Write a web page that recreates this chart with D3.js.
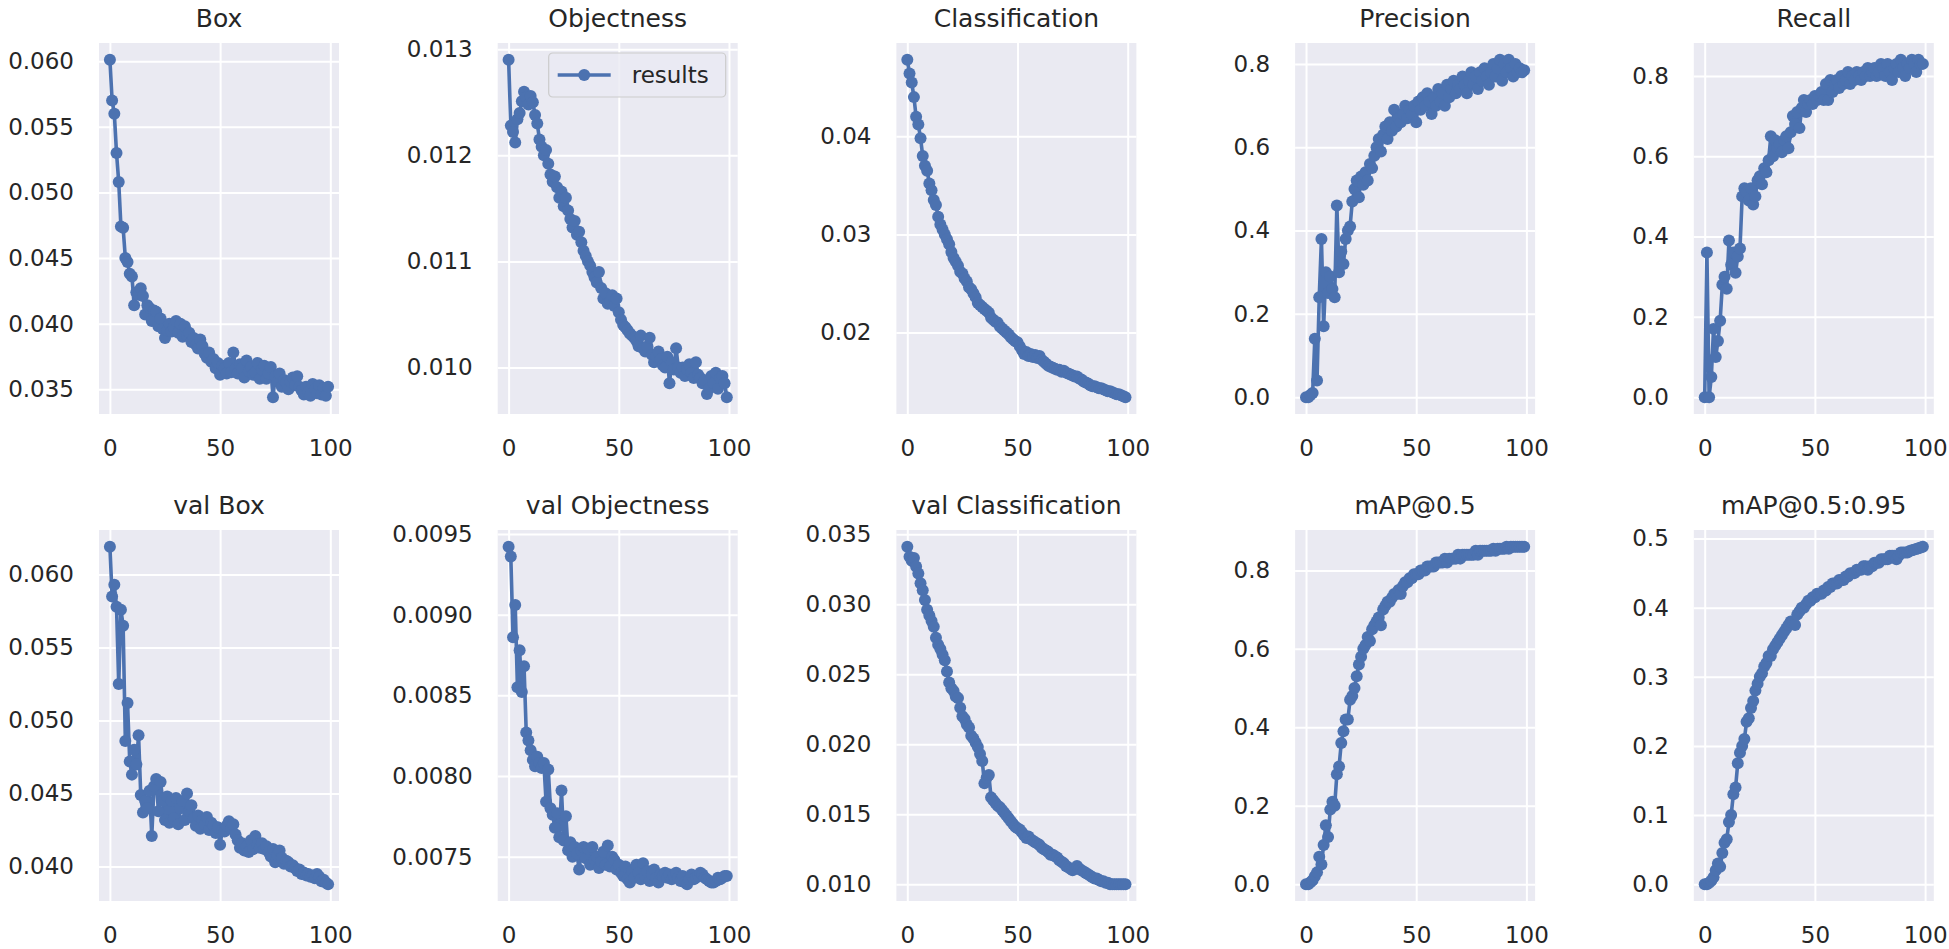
<!DOCTYPE html>
<html>
<head>
<meta charset="utf-8">
<script src="https://cdn.jsdelivr.net/npm/d3@7"></script>
<style>
    body { margin: 0; background: #ffffff; }
    text { font-family: "DejaVu Sans", sans-serif; fill: #262626; }
</style>
</head>
<body>
<div id="chart"></div>
<script>
// Training curves, one value per epoch (0..99)
const boxLoss = [.0601,.0570,.0560,.0530,.0508,.0474,.0473,.0450,.0447,.0438,.0436,.0414,.0424,.0422,.0427,.0421,.0407,.0414,.0412,.0402,
    .0410,.0409,.0398,.0404,.0396,.0389,.0395,.0400,.0394,.0397,.0402,.0393,.0400,.0390,.0398,.0391,.0393,.0386,.0389,.0384,
    .0381,.0388,.0383,.0377,.0374,.0378,.0371,.0373,.0366,.0370,.0361,.0368,.0366,.0362,.0370,.0363,.0378,.0366,.0362,.0369,
    .0366,.0359,.0372,.0364,.0367,.0361,.0363,.0370,.0358,.0365,.0368,.0358,.0362,.0367,.0344,.0360,.0356,.0362,.0352,.0357,
    .0355,.0350,.0356,.0359,.0353,.0360,.0352,.0349,.0346,.0352,.0348,.0345,.0354,.0350,.0347,.0353,.0346,.0351,.0345,.0352];
const objLoss = [.01290,.01228,.01222,.01212,.01234,.01240,.01251,.01260,.01255,.01248,.01256,.01250,.01238,.01230,.01215,.01208,.01200,.01205,.01192,.01182,
    .01175,.01180,.01170,.01160,.01166,.01152,.01160,.01148,.01140,.01132,.01138,.01125,.01128,.01118,.01110,.01105,.01100,.01096,.01090,.01085,
    .01080,.01090,.01075,.01065,.01070,.01060,.01062,.01068,.01058,.01065,.01052,.01045,.01040,.01038,.01035,.01032,.01030,.01028,.01025,.01020,
    .01030,.01018,.01015,.01020,.01028,.01012,.01005,.01010,.01015,.01008,.01002,.01000,.01010,.00985,.01005,.00998,.01018,.01000,.00995,.01000,
    .00992,.00998,.01003,.00995,.00990,.01005,.00993,.00990,.00985,.00988,.00975,.00980,.00992,.00985,.00995,.00980,.00990,.00992,.00985,.00972];
const clsLoss = [.0478,.0464,.0455,.0440,.0420,.0412,.0398,.0380,.0370,.0365,.0352,.0345,.0335,.0330,.0318,.0310,.0305,.0300,.0295,.0290,
    .0282,.0276,.0272,.0268,.0262,.0260,.0255,.0252,.0246,.0244,.0240,.0236,.0230,.0228,.0226,.0224,.0222,.0220,.0215,.0213,
    .0211,.0210,.0206,.0204,.0202,.0200,.0198,.0195,.0193,.0191,.0190,.0186,.0182,.0178,.0180,.0176,.0178,.0175,.0177,.0174,
    .0176,.0172,.0170,.0168,.0166,.0165,.0164,.0163,.0162,.0162,.0160,.0161,.0159,.0158,.0157,.0156,.0155,.0155,.0153,.0152,
    .0150,.0149,.0148,.0146,.0145,.0145,.0144,.0143,.0143,.0142,.0141,.0140,.0140,.0139,.0138,.0137,.0137,.0136,.0135,.0134];
const precision = [0.00,0.00,0.005,0.01,0.14,0.04,0.24,0.38,0.17,0.30,0.25,0.29,0.26,0.24,0.46,0.30,0.35,0.32,0.38,0.40,
    0.41,0.47,0.50,0.52,0.48,0.53,0.51,0.54,0.52,0.56,0.55,0.58,0.60,0.62,0.59,0.63,0.65,0.62,0.66,0.64,
    0.69,0.65,0.67,0.66,0.68,0.70,0.67,0.69,0.68,0.70,0.66,0.71,0.69,0.72,0.70,0.73,0.71,0.68,0.72,0.70,
    0.74,0.71,0.73,0.70,0.75,0.72,0.74,0.76,0.73,0.75,0.74,0.77,0.75,0.73,0.76,0.78,0.75,0.77,0.74,0.78,
    0.76,0.79,0.77,0.75,0.78,0.80,0.77,0.79,0.81,0.76,0.80,0.78,0.81,0.79,0.77,0.80,0.78,0.79,0.78,0.785];
const recall = [0.00,0.36,0.00,0.05,0.17,0.10,0.14,0.19,0.28,0.30,0.27,0.39,0.33,0.36,0.31,0.35,0.37,0.50,0.52,0.51,
    0.49,0.52,0.48,0.50,0.54,0.55,0.53,0.57,0.56,0.59,0.65,0.60,0.64,0.62,0.63,0.61,0.64,0.65,0.62,0.66,
    0.70,0.68,0.71,0.67,0.72,0.74,0.71,0.73,0.74,0.73,0.75,0.74,0.75,0.76,0.74,0.78,0.74,0.79,0.76,0.78,
    0.79,0.77,0.80,0.78,0.79,0.81,0.78,0.80,0.79,0.81,0.80,0.79,0.81,0.80,0.82,0.80,0.81,0.82,0.80,0.81,
    0.83,0.82,0.80,0.83,0.81,0.79,0.82,0.83,0.81,0.84,0.82,0.80,0.83,0.82,0.84,0.83,0.81,0.84,0.83,0.83];
const valBox = [.0619,.0585,.0593,.0578,.0525,.0576,.0565,.0486,.0512,.0472,.0463,.0480,.0470,.0490,.0449,.0437,.0445,.0440,.0452,.0421,
    .0455,.0460,.0438,.0458,.0445,.0432,.0448,.0430,.0445,.0433,.0447,.0429,.0440,.0445,.0432,.0450,.0438,.0442,.0433,.0428,
    .0435,.0426,.0432,.0429,.0434,.0425,.0430,.0428,.0423,.0427,.0415,.0425,.0424,.0428,.0431,.0426,.0429,.0422,.0418,.0413,
    .0416,.0411,.0414,.0410,.0418,.0412,.0421,.0415,.0413,.0416,.0412,.0414,.0410,.0407,.0412,.0403,.0408,.0411,.0406,.0402,
    .0404,.0403,.0400,.0401,.0399,.0397,.0398,.0395,.0396,.0394,.0395,.0393,.0394,.0392,.0395,.0393,.0390,.0391,.0389,.0388];
const valObj = [.00942,.00936,.00886,.00906,.00855,.00878,.00852,.00868,.00827,.00822,.00816,.00810,.00806,.00812,.00808,.00805,.00808,.00784,.00804,.00780,
    .00776,.00768,.00777,.00762,.00791,.00760,.00775,.00754,.00759,.00750,.00756,.00752,.00742,.00754,.00756,.00749,.00755,.00745,.00756,.00748,
    .00750,.00743,.00747,.00753,.00745,.00757,.00744,.00750,.00748,.00742,.00745,.00740,.00738,.00744,.00736,.00734,.00741,.00737,.00745,.00740,
    .00736,.00746,.00738,.00741,.00735,.00739,.00742,.00737,.00734,.00739,.00738,.00740,.00737,.00739,.00736,.00738,.00740,.00737,.00735,.00738,
    .00734,.00733,.00736,.00739,.00736,.00737,.00738,.00740,.00739,.00737,.00736,.00735,.00734,.00734,.00735,.00737,.00736,.00737,.00738,.00738];
const valCls = [.0341,.0334,.0331,.0333,.0327,.0322,.0315,.0310,.0303,.0296,.0292,.0288,.0284,.0276,.0271,.0268,.0264,.0260,.0252,.0244,
    .0240,.0238,.0234,.0233,.0226,.0220,.0218,.0214,.0212,.0206,.0204,.0201,.0198,.0193,.0188,.0172,.0176,.0178,.0162,.0160,
    .0158,.0156,.0155,.0153,.0151,.0149,.0147,.0145,.0143,.0141,.0140,.0139,.0137,.0135,.0133,.0134,.0132,.0131,.0130,.0129,
    .0128,.0126,.0125,.0124,.0123,.0121,.0121,.0120,.0119,.0117,.0116,.0115,.0113,.0112,.0111,.0110,.0111,.0113,.0111,.0110,
    .0109,.0108,.0107,.0106,.0105,.0104,.0104,.0103,.0102,.0102,.0101,.0101,.0100,.0100,.0100,.0100,.0100,.0100,.0100,.0100];
const map50 = [0.00,0.00,0.005,0.01,0.02,0.03,0.07,0.05,0.10,0.15,0.12,0.19,0.21,0.20,0.28,0.30,0.36,0.39,0.42,0.42,
    0.47,0.48,0.50,0.53,0.56,0.58,0.60,0.61,0.63,0.62,0.65,0.66,0.67,0.68,0.66,0.70,0.71,0.72,0.72,0.73,
    0.74,0.74,0.75,0.74,0.76,0.77,0.77,0.78,0.78,0.79,0.79,0.79,0.80,0.80,0.80,0.81,0.81,0.81,0.81,0.82,
    0.82,0.82,0.82,0.83,0.82,0.83,0.83,0.83,0.83,0.84,0.83,0.84,0.84,0.84,0.84,0.84,0.84,0.85,0.84,0.85,
    0.85,0.85,0.85,0.85,0.85,0.855,0.85,0.855,0.855,0.855,0.855,0.86,0.855,0.86,0.86,0.86,0.86,0.86,0.86,0.86];
const map5095 = [0.00,0.00,0.002,0.005,0.01,0.02,0.03,0.025,0.045,0.06,0.065,0.09,0.10,0.13,0.14,0.175,0.19,0.20,0.21,0.235,
    0.24,0.255,0.265,0.28,0.29,0.30,0.305,0.315,0.32,0.33,0.33,0.34,0.345,0.35,0.355,0.36,0.365,0.37,0.375,0.38,
    0.38,0.375,0.39,0.395,0.40,0.40,0.405,0.41,0.41,0.415,0.415,0.42,0.42,0.42,0.425,0.425,0.43,0.43,0.435,0.435,
    0.435,0.44,0.44,0.44,0.445,0.445,0.45,0.45,0.45,0.455,0.455,0.455,0.46,0.46,0.455,0.46,0.46,0.465,0.465,0.465,
    0.47,0.47,0.47,0.47,0.475,0.475,0.475,0.47,0.475,0.48,0.48,0.48,0.48,0.482,0.483,0.484,0.485,0.486,0.487,0.488];

// Panel titles, in grid order
const titles = ["Box", "Objectness", "Classification", "Precision", "Recall",
    "val Box", "val Objectness", "val Classification", "mAP@0.5", "mAP@0.5:0.95"];
const series = [boxLoss, objLoss, clsLoss, precision, recall,
    valBox, valObj, valCls, map50, map5095];

// Tick values per panel
const yTicks = [
    [0.035, 0.040, 0.045, 0.050, 0.055, 0.060],
    [0.010, 0.011, 0.012, 0.013],
    [0.02, 0.03, 0.04],
    [0.0, 0.2, 0.4, 0.6, 0.8],
    [0.0, 0.2, 0.4, 0.6, 0.8],
    [0.040, 0.045, 0.050, 0.055, 0.060],
    [0.0075, 0.0080, 0.0085, 0.0090, 0.0095],
    [0.010, 0.015, 0.020, 0.025, 0.030, 0.035],
    [0.0, 0.2, 0.4, 0.6, 0.8],
    [0.0, 0.1, 0.2, 0.3, 0.4, 0.5]
];
const yFormats = [".3f", ".3f", ".2f", ".1f", ".1f", ".3f", ".4f", ".3f", ".1f", ".1f"];
const xTicks = [0, 50, 100];
const legendLabel = "results";

// Layout settings
const WIDTH = 1949, HEIGHT = 949;
const PANEL_LEFT = 99, PANEL_STEP = 398.7, PANEL_W = 240;
const ROW_TOP = [43, 530], PANEL_H = 371;
const COLOR = "#4C72B0";
const MARKER_R = 6, LINE_W = 3.6;

const svg = d3.select("#chart").append("svg")
    .attr("width", WIDTH)
    .attr("height", HEIGHT);

svg.append("rect").attr("width", WIDTH).attr("height", HEIGHT).attr("fill", "#ffffff");

series.forEach(function (values, k) {
    const col = k % 5, row = Math.floor(k / 5);
    const g = svg.append("g")
        .attr("transform", "translate(" + (PANEL_LEFT + col * PANEL_STEP) + "," + ROW_TOP[row] + ")");

    // matplotlib style 5% margins on both axes
    const n = values.length;
    const xPad = (n - 1) * 0.05;
    const x = d3.scaleLinear().domain([-xPad, n - 1 + xPad]).range([0, PANEL_W]);
    const ext = d3.extent(values);
    const yPad = (ext[1] - ext[0]) * 0.05;
    const y = d3.scaleLinear().domain([ext[0] - yPad, ext[1] + yPad]).range([PANEL_H, 0]);

    g.append("rect")
        .attr("width", PANEL_W)
        .attr("height", PANEL_H)
        .attr("fill", "#EAEAF2");

    // Grid + tick labels
    const yAxis = g.append("g")
        .call(d3.axisLeft(y).tickValues(yTicks[k]).tickFormat(d3.format(yFormats[k]))
            .tickSize(-PANEL_W).tickPadding(25));
    const xAxis = g.append("g")
        .attr("transform", "translate(0," + PANEL_H + ")")
        .call(d3.axisBottom(x).tickValues(xTicks).tickFormat(d3.format("d"))
            .tickSize(-PANEL_H).tickPadding(26));
    [yAxis, xAxis].forEach(function (a) {
        a.select(".domain").remove();
        a.selectAll("line").attr("stroke", "#ffffff").attr("stroke-width", 2);
        a.selectAll("text").attr("font-size", 23).attr("fill", "#262626")
            .attr("font-family", "DejaVu Sans, sans-serif");
    });

    // Title
    g.append("text")
        .attr("x", PANEL_W / 2)
        .attr("y", -16)
        .attr("text-anchor", "middle")
        .attr("font-size", 25)
        .text(titles[k]);

    // Curve with markers
    const line = d3.line()
        .x(function (d, i) { return x(i); })
        .y(function (d) { return y(d); });

    const plot = g.append("g");
    plot.append("path")
        .datum(values)
        .attr("d", line)
        .attr("fill", "none")
        .attr("stroke", COLOR)
        .attr("stroke-width", LINE_W)
        .attr("stroke-linejoin", "round");
    plot.selectAll("circle")
        .data(values)
        .enter().append("circle")
            .attr("cx", function (d, i) { return x(i); })
            .attr("cy", function (d) { return y(d); })
            .attr("r", MARKER_R)
            .attr("fill", COLOR);

    // Legend only on the Objectness panel
    if (k === 1) {
        const lg = g.append("g").attr("transform", "translate(51,10)");
        lg.append("rect")
            .attr("width", 177)
            .attr("height", 44)
            .attr("rx", 4)
            .attr("fill", "#EAEAF2")
            .attr("fill-opacity", 0.8)
            .attr("stroke", "#cccccc")
            .attr("stroke-width", 1.2);
        lg.append("line")
            .attr("x1", 9).attr("x2", 62)
            .attr("y1", 22).attr("y2", 22)
            .attr("stroke", COLOR)
            .attr("stroke-width", LINE_W);
        lg.append("circle")
            .attr("cx", 35.5).attr("cy", 22).attr("r", MARKER_R)
            .attr("fill", COLOR);
        lg.append("text")
            .attr("x", 83)
            .attr("y", 30)
            .attr("font-size", 23)
            .text(legendLabel);
    }
});
</script>
</body>
</html>
